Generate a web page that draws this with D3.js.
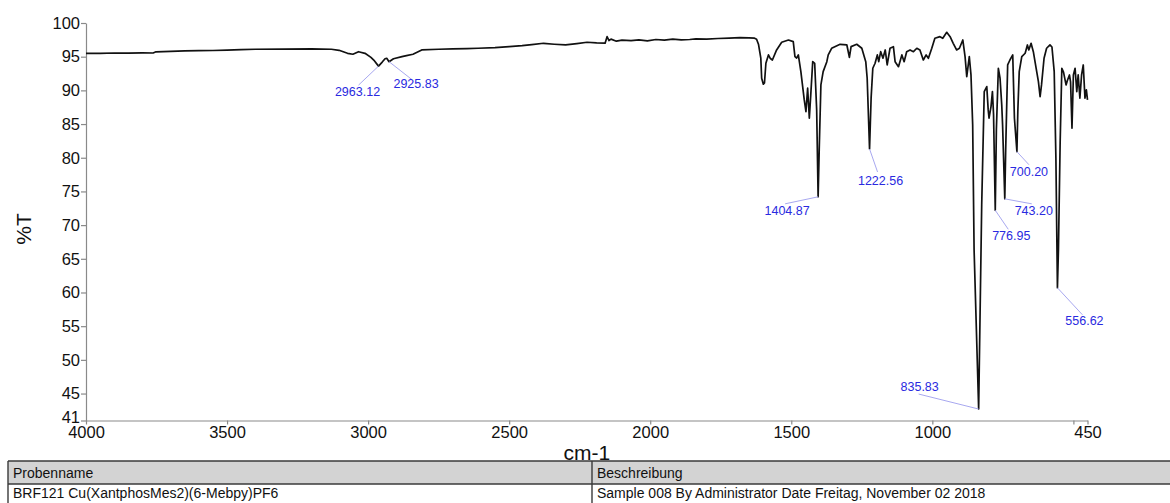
<!DOCTYPE html>
<html>
<head>
<meta charset="utf-8">
<script src="https://cdn.jsdelivr.net/npm/d3@7"></script>
<style>
  body { margin: 0; background: #fff; }
  svg { display: block; font-family: "Liberation Sans", Arial, Helvetica, sans-serif; }
</style>
</head>
<body>
<svg id="chart" width="1170" height="503"></svg>
<script>
// IR spectrum: wavenumber (cm-1) and transmittance (%T)
const wavenumber = [
  4000, 3950, 3900, 3850, 3800, 3762, 3752, 3700, 3650, 3600, 3550, 3500, 3450, 3400, 3300, 3200,
  3130, 3103, 3073, 3054, 3034, 3011, 2990, 2980, 2963.12, 2950, 2940, 2934, 2925.83, 2910, 2880,
  2864, 2841, 2810, 2750, 2700, 2650, 2610, 2550, 2500, 2454, 2420, 2378, 2340, 2300, 2260, 2224,
  2190, 2160, 2153, 2146, 2139, 2120, 2100, 2068, 2040, 2010, 1980, 1950, 1920, 1890, 1860, 1838,
  1800, 1760, 1720, 1682, 1650, 1630, 1623, 1616, 1608, 1605, 1599, 1595, 1590, 1581, 1575, 1567,
  1552, 1534, 1510, 1493, 1487, 1481, 1475, 1466, 1454, 1448, 1442, 1436, 1431, 1424, 1417, 1410,
  1404.87, 1401, 1395, 1387, 1374, 1369, 1357, 1327, 1303, 1294, 1288, 1268, 1250, 1236, 1231,
  1222.56, 1217, 1211, 1203, 1195, 1190, 1183, 1175, 1167, 1160, 1150, 1138, 1132, 1120, 1108,
  1100, 1091, 1079, 1067, 1055, 1044, 1032, 1022, 1014, 1002, 991, 973, 963, 949, 937, 926, 914,
  904, 892, 884, 878, 869, 863, 857, 852, 835.83, 825, 816, 807, 802, 799, 792, 787, 783, 776.95,
  773, 766, 760, 754, 751, 743.20, 740, 733, 725, 715, 709, 700.20, 697, 692, 683, 671, 663, 658,
  650, 642, 632, 624, 618, 613, 604, 595, 583, 576, 568, 562, 556.62, 553, 547, 541, 535, 526, 521,
  514, 510, 505, 500, 494, 488, 483, 477, 471, 465, 459, 454, 450
];
const percentT = [
  95.50, 95.48, 95.55, 95.52, 95.58, 95.55, 95.72, 95.78, 95.85, 95.90, 95.92, 95.98, 96.05, 96.10, 96.12, 96.15,
  96.10, 95.95, 95.50, 95.36, 95.74, 95.50, 94.90, 94.50, 93.60, 94.20, 94.70, 94.77, 94.26, 94.70, 95.00,
  95.15, 95.36, 96.00, 96.10, 96.15, 96.20, 96.25, 96.35, 96.50, 96.63, 96.80, 96.99, 96.85, 96.74, 96.95, 97.14,
  97.05, 97.00, 97.97, 97.40, 97.60, 97.30, 97.45, 97.38, 97.50, 97.35, 97.55, 97.45, 97.60, 97.50, 97.55, 97.63,
  97.60, 97.70, 97.75, 97.82, 97.78, 97.75, 97.60, 96.80, 94.77, 91.80, 90.91, 91.10, 94.03, 95.26, 94.77, 94.51,
  96.00, 97.14, 97.48, 97.23, 95.00, 94.80, 95.26, 92.78, 88.58, 86.85, 90.32, 85.87, 89.30, 94.26, 94.00, 87.10,
  74.2, 81.17, 90.80, 92.78, 94.26, 95.26, 96.25, 96.84, 96.74, 94.91, 96.49, 96.84, 96.25, 94.26, 91.80,
  81.3, 88.88, 93.28, 94.03, 95.26, 94.26, 95.74, 94.77, 96.00, 93.77, 96.25, 96.49, 94.26, 93.52, 95.26,
  94.26, 95.74, 96.00, 95.74, 96.25, 96.00, 94.51, 95.26, 94.77, 96.25, 97.73, 97.97, 97.73, 98.62, 97.97, 96.99, 96.00,
  96.25, 97.48, 95.00, 92.04, 95.00, 92.29, 84.88, 66.35, 42.7, 73.02, 89.81, 90.56, 87.10, 85.87, 87.59, 89.81, 86.40, 72.2,
  84.14, 93.28, 91.80, 87.84, 84.88, 73.9, 81.17, 93.77, 94.51, 95.26, 85.87, 80.9, 86.85, 92.78, 95.00, 95.51, 96.74, 96.00,
  96.99, 95.74, 93.28, 91.30, 89.07, 90.81, 94.77, 96.25, 96.74, 96.44, 92.78, 79.94, 60.7, 66.35, 82.16, 93.28, 92.70, 90.81, 91.50,
  92.29, 91.25, 84.39, 92.29, 93.28, 89.81, 92.29, 88.84, 92.29, 93.77, 88.84, 90.07, 88.60
];

// Picked peaks
const peakWavenumber = [2963.12, 2925.83, 1404.87, 1222.56, 835.83, 776.95, 743.20, 700.20, 556.62];
const peakPercentT   = [93.6, 94.26, 74.2, 81.3, 42.7, 72.2, 73.9, 80.9, 60.7];
const peakText       = ["2963.12", "2925.83", "1404.87", "1222.56", "835.83", "776.95", "743.20", "700.20", "556.62"];

// Axis ticks
const xTickValues = [4000, 3500, 3000, 2500, 2000, 1500, 1000, 500, 450];
const xTickLabels = ["4000", "3500", "3000", "2500", "2000", "1500", "1000", "", "450"];
const yTickValues = [41, 45, 50, 55, 60, 65, 70, 75, 80, 85, 90, 95, 100];

// Sample info table
const tableHeaders = ["Probenname", "Beschreibung"];
const tableValues  = ["BRF121 Cu(XantphosMes2)(6-Mebpy)PF6", "Sample 008 By Administrator Date Freitag, November 02 2018"];

// Leader-line end (lx, ly) and label anchor (tx, ty) relative to each peak tip, in px
const peakLabelLayout = [
  { lx: -20, ly: 19, tx: -21, ty: 30 },
  { lx: 23,  ly: 18, tx: 27,  ty: 26 },
  { lx: -33, ly: 7,  tx: -31, ty: 18 },
  { lx: 8,   ly: 23, tx: 11,  ty: 36 },
  { lx: -60, ly: -15, tx: -59, ty: -18 },
  { lx: 13,  ly: 19, tx: 16,  ty: 30 },
  { lx: 27,  ly: 5,  tx: 29,  ty: 16 },
  { lx: 12,  ly: 13, tx: 12,  ty: 24 },
  { lx: 25,  ly: 27, tx: 27,  ty: 37 }
];

const svg = d3.select("#chart");
svg.append("rect").attr("width", 1170).attr("height", 503).attr("fill", "#fff");

const x = d3.scaleLinear().domain([4000, 450]).range([86, 1087.5]);
const y = d3.scaleLinear().domain([41, 100]).range([420.5, 23]);

const axisColor = "#8a8a8a";

// Y axis
const yAxis = svg.append("g")
  .attr("transform", `translate(${x(4000)},0)`)
  .call(d3.axisLeft(y).tickValues(yTickValues).tickFormat(d3.format("d")).tickSize(5).tickSizeOuter(0).tickPadding(1));
// X axis
const xAxis = svg.append("g")
  .attr("transform", `translate(0,${y(41)})`)
  .call(d3.axisBottom(x).tickValues(xTickValues).tickFormat((d, i) => xTickLabels[i]).tickSize(4).tickSizeOuter(0).tickPadding(2));

[yAxis, xAxis].forEach(g => {
  g.select(".domain").attr("stroke", axisColor).attr("stroke-width", 1.2);
  g.selectAll(".tick line").attr("stroke", axisColor).attr("stroke-width", 1.2);
  g.selectAll(".tick text")
    .attr("fill", "#111")
    .style("font-size", "16.5px")
    .style("font-family", "\"Liberation Sans\", Arial, sans-serif");
});
// the bottom "41" label sits just above the corner so it clears "4000"
yAxis.selectAll(".tick text").filter(d => d === 41).attr("dy", "0.1em");

// Axis titles
svg.append("text")
  .attr("x", (x(4000) + x(450)) / 2)
  .attr("y", 460)
  .attr("text-anchor", "middle")
  .attr("fill", "#111")
  .style("font-size", "21px")
  .text("cm-1");

svg.append("text")
  .attr("transform", "translate(31,229) rotate(-90)")
  .attr("text-anchor", "middle")
  .attr("fill", "#111")
  .style("font-size", "21px")
  .text("%T");

// Spectrum trace
const spectrum = wavenumber.map((w, i) => [w, percentT[i]]);
svg.append("path")
  .datum(spectrum)
  .attr("fill", "none")
  .attr("stroke", "#111")
  .attr("stroke-width", 1.7)
  .attr("stroke-linejoin", "round")
  .attr("d", d3.line().x(d => x(d[0])).y(d => y(d[1])));

// Peak annotations
const peaks = peakWavenumber.map((w, i) => ({ w, t: peakPercentT[i], text: peakText[i], lay: peakLabelLayout[i] }));
const pg = svg.append("g");
pg.selectAll("line")
  .data(peaks)
  .join("line")
  .attr("x1", d => x(d.w))
  .attr("y1", d => y(d.t))
  .attr("x2", d => x(d.w) + d.lay.lx)
  .attr("y2", d => y(d.t) + d.lay.ly)
  .attr("stroke", "#a8a8f0")
  .attr("stroke-width", 1);
pg.selectAll("text")
  .data(peaks)
  .join("text")
  .attr("x", d => x(d.w) + d.lay.tx)
  .attr("y", d => y(d.t) + d.lay.ty)
  .attr("text-anchor", "middle")
  .attr("fill", "#2a2ae0")
  .style("font-size", "12.5px")
  .text(d => d.text);

// Sample info table
const tbl = svg.append("g");
const colX = [8, 592];
const tTop = 461, tHeadBottom = 484, tRight = 1172;
tbl.append("rect")
  .attr("x", colX[0]).attr("y", tTop)
  .attr("width", tRight - colX[0]).attr("height", tHeadBottom - tTop)
  .attr("fill", "#d3d3d3");
const borderColor = "#3a3a3a";
tbl.append("line").attr("x1", colX[0]).attr("x2", tRight).attr("y1", tTop).attr("y2", tTop)
  .attr("stroke", borderColor).attr("stroke-width", 1.6);
tbl.append("line").attr("x1", colX[0]).attr("x2", tRight).attr("y1", tHeadBottom).attr("y2", tHeadBottom)
  .attr("stroke", borderColor).attr("stroke-width", 1.4);
tbl.selectAll("line.col")
  .data(colX)
  .join("line")
  .attr("class", "col")
  .attr("x1", d => d).attr("x2", d => d)
  .attr("y1", tTop).attr("y2", 503)
  .attr("stroke", borderColor).attr("stroke-width", 1.4);
tbl.selectAll("text.head")
  .data(tableHeaders)
  .join("text")
  .attr("class", "head")
  .attr("x", (d, i) => colX[i] + 5)
  .attr("y", 477.5)
  .attr("fill", "#111")
  .style("font-size", "14px")
  .text(d => d);
tbl.selectAll("text.val")
  .data(tableValues)
  .join("text")
  .attr("class", "val")
  .attr("x", (d, i) => colX[i] + 5)
  .attr("y", 497.5)
  .attr("fill", "#111")
  .style("font-size", "14px")
  .text(d => d);
</script>
</body>
</html>
